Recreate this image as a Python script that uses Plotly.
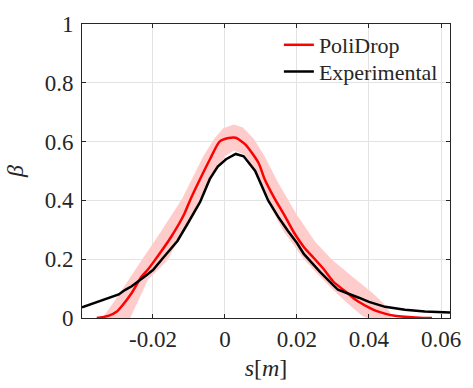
import plotly.graph_objects as go

# PoliDrop (red) curve
red_s = [-0.0356, -0.0340, -0.0322, -0.0300, -0.0286, -0.0259, -0.0232, -0.0214, -0.0195,
         -0.0151, -0.0114, -0.0097, -0.0070, -0.0042, -0.0015, 0.0010, 0.0030, 0.0057,
         0.0093, 0.0111, 0.0138, 0.0165, 0.0192, 0.0220, 0.0246, 0.0275, 0.0300, 0.0345,
         0.0363, 0.0399, 0.0420, 0.0444, 0.0471, 0.0500, 0.0540, 0.0575]
red_b = [0.0, 0.003, 0.008, 0.022, 0.041, 0.085, 0.14, 0.165, 0.196,
         0.273, 0.351, 0.40, 0.47, 0.539, 0.60, 0.612, 0.613, 0.59,
         0.528, 0.47, 0.406, 0.35, 0.29, 0.24, 0.205, 0.165, 0.125, 0.08,
         0.062, 0.036, 0.024, 0.015, 0.008, 0.004, 0.001, 0.0]

# Experimental (black) curve
exp_s = [-0.0397, -0.0376, -0.0350, -0.0320, -0.0295, -0.0278, -0.0259, -0.0222, -0.0200,
         -0.0168, -0.0132, -0.0105, -0.0069, -0.0042, -0.0020, 0.0003, 0.0030, 0.0052,
         0.0084, 0.0120, 0.0150, 0.0175, 0.0200, 0.0219, 0.0264, 0.0300, 0.0314, 0.0372,
         0.0400, 0.0445, 0.0500, 0.0555, 0.0625]
exp_b = [0.036, 0.045, 0.055, 0.068, 0.080, 0.095, 0.108, 0.142, 0.163,
         0.21, 0.262, 0.318, 0.395, 0.473, 0.515, 0.540, 0.558, 0.550,
         0.50, 0.40, 0.34, 0.296, 0.255, 0.218, 0.157, 0.113, 0.096, 0.069,
         0.055, 0.038, 0.028, 0.022, 0.019]

# Uncertainty band edges
band_up_s = [-0.0340, -0.0300, -0.0232, -0.0180, -0.0119, -0.0060, -0.0030, -0.0005, 0.0025,
             0.0050, 0.0080, 0.0110, 0.0147, 0.0200, 0.0250, 0.0296, 0.0354, 0.0410,
             0.0440, 0.0458, 0.0462]
band_up_b = [0.0, 0.07, 0.196, 0.29, 0.406, 0.55, 0.61, 0.645, 0.658,
             0.648, 0.61, 0.55, 0.462, 0.35, 0.26, 0.20, 0.14, 0.085,
             0.05, 0.02, 0.0]
band_lo_s = [-0.0263, -0.0214, -0.0160, -0.0069, -0.0030, 0.0000, 0.0025, 0.0055, 0.0090,
             0.0115, 0.0160, 0.0219, 0.0260, 0.0300, 0.0340, 0.0381, 0.0395]
band_lo_b = [0.0, 0.13, 0.196, 0.406, 0.49, 0.55, 0.570, 0.555, 0.49,
             0.406, 0.30, 0.20, 0.145, 0.096, 0.05, 0.008, 0.0]

x_ticks = [-0.02, 0, 0.02, 0.04, 0.06]
x_ticktext = ["-0.02", "0", "0.02", "0.04", "0.06"]
y_ticks = [0, 0.2, 0.4, 0.6, 0.8, 1]
y_ticktext = ["0", "0.2", "0.4", "0.6", "0.8", "1"]

FONT = "Liberation Serif"

fig = go.Figure()
fig.add_trace(go.Scatter(
    x=band_up_s + band_lo_s[::-1], y=band_up_b + band_lo_b[::-1],
    fill="toself", fillcolor="#ffcccc", line=dict(width=0, color="rgba(0,0,0,0)"),
    mode="lines", showlegend=False, hoverinfo="skip"))
fig.add_trace(go.Scatter(x=red_s, y=red_b, mode="lines", name="PoliDrop", legend="legend",
                         line=dict(color="#ff0000", width=2.5, shape="spline", smoothing=0.6)))
fig.add_trace(go.Scatter(x=exp_s, y=exp_b, mode="lines", name="Experimental", legend="legend2",
                         line=dict(color="#000000", width=2.5)))

axis_common = dict(
    showline=True, linecolor="#262626", linewidth=1, mirror="ticks",
    ticks="inside", ticklen=4, tickcolor="#262626",
    showgrid=True, gridcolor="#e3e3e3", gridwidth=1, zeroline=False,
    tickfont=dict(family=FONT, size=23, color="#262626"),
)

legend_common = dict(x=0.535, xanchor="left", yanchor="top",
                     bgcolor="rgba(0,0,0,0)", borderwidth=0,
                     font=dict(family=FONT, size=22, color="#262626"))

fig.update_layout(
    width=473, height=388,
    margin=dict(l=82, r=12, t=18, b=69),
    paper_bgcolor="white", plot_bgcolor="white",
    font=dict(family=FONT, color="#262626"),
    showlegend=True,
    legend=dict(y=1.0, **legend_common),
    legend2=dict(y=0.909, **legend_common),
    xaxis=dict(range=[-0.0397, 0.0625], tickvals=x_ticks, ticktext=x_ticktext,
               title=dict(text="<i>s</i>[<i>m</i>]", font=dict(family=FONT, size=24),
                          standoff=8),
               **axis_common),
    yaxis=dict(range=[0, 1], tickvals=y_ticks, ticktext=y_ticktext,
               ticklabelstandoff=3,
               title=dict(text="<i>β</i>", font=dict(family=FONT, size=24), standoff=14),
               **axis_common),
)

fig.write_html("out.html")
